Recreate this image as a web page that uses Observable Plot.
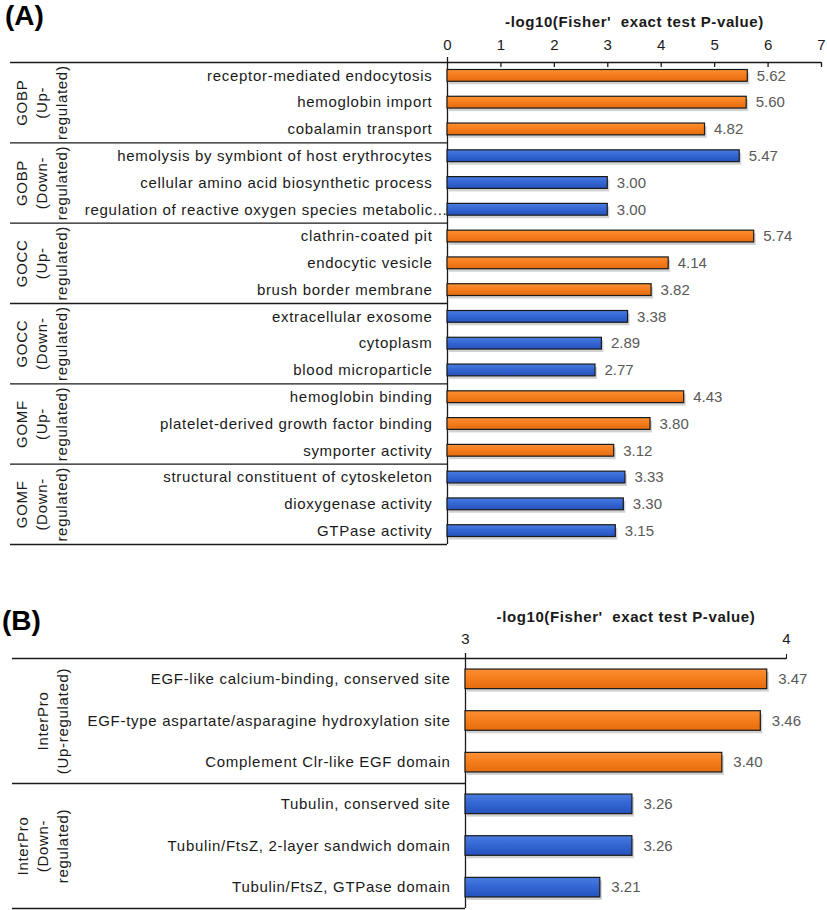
<!DOCTYPE html>
<html><head><meta charset="utf-8">
<script src="https://cdn.jsdelivr.net/npm/d3@7"></script>
<script src="https://cdn.jsdelivr.net/npm/@observablehq/plot@0.6"></script>
<style>
body{margin:0;background:#fff;}
#wrap{position:relative;width:827px;height:910px;font-family:"Liberation Sans",Arial,sans-serif;overflow:hidden;}
.panel{position:absolute;font-weight:bold;font-size:28px;line-height:32px;color:#000;}
#wrap svg{position:absolute;left:0;overflow:visible;}
g[aria-description="cat"] text{letter-spacing:0.7px;}
g[aria-description="title"] text{white-space:pre;letter-spacing:0.6px;}
</style></head><body>
<svg width="0" height="0" style="position:absolute">
<defs>
<linearGradient id="gOrange" x1="0" y1="0" x2="0" y2="1">
<stop offset="0" stop-color="#FB9035"/><stop offset="0.45" stop-color="#F67E1D"/><stop offset="1" stop-color="#E46C0E"/>
</linearGradient>
<linearGradient id="gBlue" x1="0" y1="0" x2="0" y2="1">
<stop offset="0" stop-color="#4A7DE0"/><stop offset="0.45" stop-color="#3567D4"/><stop offset="1" stop-color="#2552BC"/>
</linearGradient>
</defs></svg>
<div id="wrap">
<div class="panel" style="top:0px;left:5px">(A)</div>
<div class="panel" style="top:605px;left:2px">(B)</div>
</div>
<script>
// ---------- Panel A data ----------
const termsA = [
  "receptor-mediated endocytosis", "hemoglobin import", "cobalamin transport",
  "hemolysis by symbiont of host erythrocytes", "cellular amino acid biosynthetic process", "regulation of reactive oxygen species metabolic...",
  "clathrin-coated pit", "endocytic vesicle", "brush border membrane",
  "extracellular exosome", "cytoplasm", "blood microparticle",
  "hemoglobin binding", "platelet-derived growth factor binding", "symporter activity",
  "structural constituent of cytoskeleton", "dioxygenase activity", "GTPase activity"
];
const valuesA = [5.62, 5.60, 4.82, 5.47, 3.00, 3.00, 5.74, 4.14, 3.82, 3.38, 2.89, 2.77, 4.43, 3.80, 3.12, 3.33, 3.30, 3.15];
const groupsA = ["GOBP\n(Up-\nregulated)", "GOBP\n(Down-\nregulated)", "GOCC\n(Up-\nregulated)", "GOCC\n(Down-\nregulated)", "GOMF\n(Up-\nregulated)", "GOMF\n(Down-\nregulated)"];
const directionsA = ["up", "down", "up", "down", "up", "down"];
const ticksA = [0, 1, 2, 3, 4, 5, 6, 7];

// ---------- Panel B data ----------
const termsB = [
  "EGF-like calcium-binding, conserved site", "EGF-type aspartate/asparagine hydroxylation site", "Complement Clr-like EGF domain",
  "Tubulin, conserved site", "Tubulin/FtsZ, 2-layer sandwich domain", "Tubulin/FtsZ, GTPase domain"
];
const valuesB = [3.47, 3.46, 3.40, 3.26, 3.26, 3.21];
const groupsB = ["InterPro\n(Up-regulated)", "InterPro\n(Down-\nregulated)"];
const directionsB = ["up", "down"];
const ticksB = [3, 3.5];

const axisTitle = "-log10(Fisher'  exact test P-value)";

const FONT = '"Liberation Sans", Arial, sans-serif';
const FILLS = {up: "url(#gOrange)", down: "url(#gBlue)"};
const INK = "#1a1a1a";

function panel(o) {
  const {terms, values, groups, directions, ticks, tickFormat, xDomain, xRange,
         width, height, marginTop, marginBottom, marginLeft, marginRight,
         barHalf, ticksInward, tickPadding, titleDy, valueDx, groupDx} = o;
  const n = terms.length;
  const per = n / groups.length;
  const rows = terms.map((t, i) => ({term: t, value: values[i], i, dir: directions[Math.floor(i / per)]}));
  const groupRows = groups.map((g, k) => ({label: g, center: per * k + (per - 1) / 2}));
  const bounds = d3.range(1, groups.length + 1).map(k => per * k - 0.5);
  const x0 = xDomain[0];
  const unitPx = (xRange[1] - xRange[0]) / (xDomain[1] - xDomain[0]);
  const xLeft = x0 - (xRange[0] - marginLeft) / unitPx;
  const rowPx = (height - marginTop - marginBottom) / n;
  const line = {stroke: INK, strokeWidth: 1.3};
  const truncated = d => d.term.endsWith("...");
  const bar = (dir) => Plot.rectX(rows, {
    filter: d => d.dir === dir, x1: x0, x2: "value",
    y1: d => d.i - barHalf, y2: d => d.i + barHalf,
    fill: FILLS[dir], stroke: INK, strokeWidth: 1.2
  });
  const catText = {x: x0, y: "i", text: "term", textAnchor: "end", fill: INK, fontSize: 15, ariaDescription: "cat"};
  const marks = [
    Plot.ruleY([-0.5], line),
    Plot.ruleY(bounds, {...line, x1: xLeft, x2: x0}),
    Plot.ruleX([x0], {...line, y1: -0.5 - 5 / rowPx, y2: n - 0.5}),
    Plot.rectX(rows, {x1: x0, x2: "value", y1: d => d.i - barHalf, y2: d => d.i + barHalf,
      fill: "#7a7a7a", fillOpacity: 0.35, dx: 2, dy: 3}),
    bar("up"), bar("down"),
    Plot.text(rows, {x: "value", y: "i", text: d => d.value.toFixed(2), dx: valueDx,
      textAnchor: "start", fill: "#595959", fontSize: 15}),
    Plot.text(rows, {...catText, filter: d => !truncated(d), dx: -15}),
    Plot.text(rows, {...catText, filter: truncated, dx: 0}),
    Plot.text(groupRows, {frameAnchor: "left", y: "center", text: "label", rotate: -90,
      dx: groupDx, textAnchor: "middle", lineAnchor: "bottom", lineHeight: 1.33,
      fill: INK, fontSize: 15, ariaDescription: "cat"}),
    Plot.text([axisTitle], {x: (xDomain[0] + xDomain[1]) / 2, frameAnchor: "top", dy: titleDy,
      lineAnchor: "bottom", fontWeight: "bold", fontSize: 15, fill: INK, ariaDescription: "title"}),
    Plot.axisX({anchor: "top", ticks, tickFormat, tickSize: ticksInward ? 0 : 5, label: null,
      tickPadding, fontSize: 15, stroke: INK, fill: INK})
  ];
  if (ticksInward) {
    marks.push(Plot.ruleX(ticks.filter(t => t !== x0), {...line, y1: -0.5, y2: -0.5 + 5 / rowPx}));
  }
  return Plot.plot({
    width, height, marginTop, marginBottom, marginLeft, marginRight,
    style: {fontFamily: FONT, fontSize: "15px", color: INK, background: "transparent", overflow: "visible"},
    x: {domain: xDomain, range: xRange, label: null},
    y: {domain: [-0.5, n - 0.5], reverse: true, axis: null},
    marks
  });
}

const svgA = panel({
  terms: termsA, values: valuesA, groups: groupsA, directions: directionsA,
  ticks: ticksA, tickFormat: d3.format("d"), xDomain: [0, 7], xRange: [447, 821],
  width: 827, height: 550, marginTop: 62, marginBottom: 6, marginLeft: 10, marginRight: 6,
  barHalf: 0.22, ticksInward: true, tickPadding: 13, titleDy: -36, valueDx: 9, groupDx: 56
});
svgA.style.top = "0px";

const svgB = panel({
  terms: termsB, values: valuesB, groups: groupsB, directions: directionsB,
  ticks: ticksB, tickFormat: d3.format(".0f"), xDomain: [3, 3.5], xRange: [465, 786],
  width: 827, height: 320, marginTop: 68, marginBottom: 2, marginLeft: 12, marginRight: 41,
  barHalf: 0.235, ticksInward: false, tickPadding: 10, titleDy: -37, valueDx: 11, groupDx: 55
});
svgB.style.top = "590px";

const wrap = document.getElementById("wrap");
wrap.appendChild(svgA);
wrap.appendChild(svgB);
</script>
</body></html>
